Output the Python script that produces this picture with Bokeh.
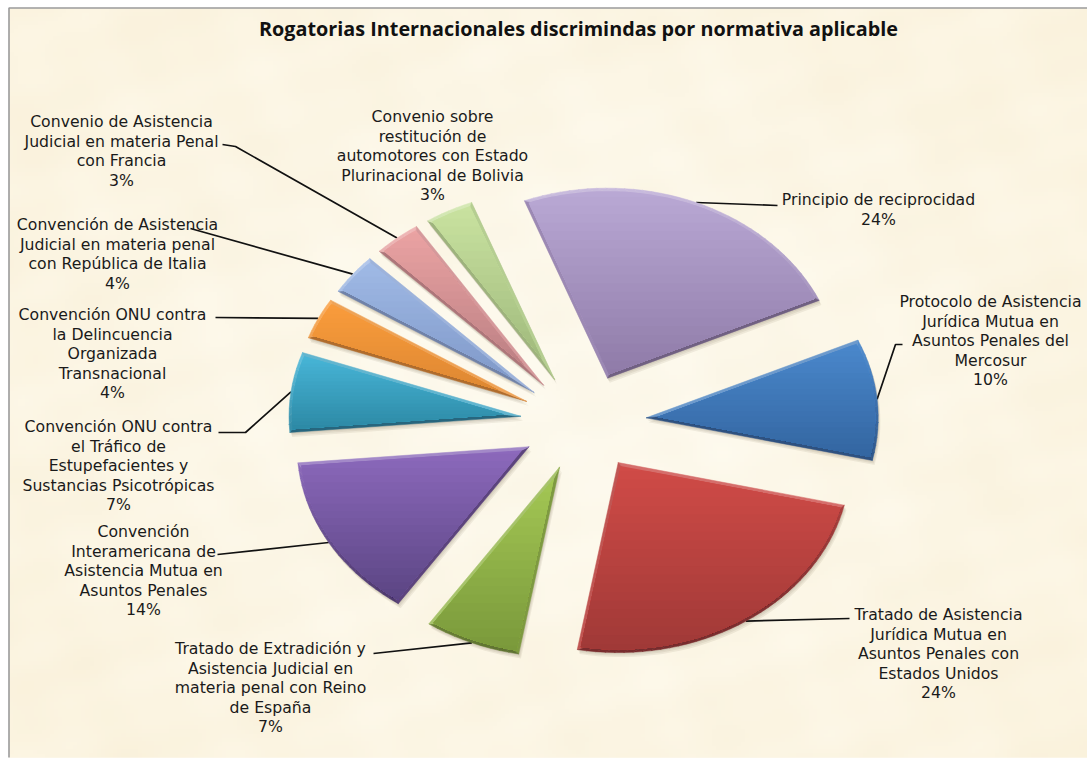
import math
import numpy as np
from bokeh.plotting import figure
from bokeh.core.properties import value
from bokeh.embed import file_html
from bokeh.resources import INLINE

# ---- data ----
title_text = "Rogatorias Internacionales discrimindas por normativa aplicable"
categories = [
    "Principio de reciprocidad",
    "Protocolo de Asistencia\nJurídica Mutua en\nAsuntos Penales del\nMercosur",
    "Tratado de Asistencia\nJurídica Mutua en\nAsuntos Penales con\nEstados Unidos",
    "Tratado de Extradición y\nAsistencia Judicial en\nmateria penal con Reino\nde España",
    "Convención\nInteramericana de\nAsistencia Mutua en\nAsuntos Penales",
    "Convención ONU contra\nel Tráfico de\nEstupefacientes y\nSustancias Psicotrópicas",
    "Convención ONU contra\nla Delincuencia\nOrganizada\nTransnacional",
    "Convención de Asistencia\nJudicial en materia penal\ncon República de Italia",
    "Convenio de Asistencia\nJudicial en materia Penal\ncon Francia",
    "Convenio sobre\nrestitución de\nautomotores con Estado\nPlurinacional de Bolivia",
]
shares = [24.1, 10.3, 24.2, 6.7, 14.1, 6.8, 3.5, 3.5, 3.3, 3.4]
percent_labels = ["24%", "10%", "24%", "7%", "14%", "7%", "4%", "4%", "3%", "3%"]

# ---- style / layout ----
top_colors = ["#B9A8D4", "#4A88CC", "#D04B47", "#A5C955", "#8C69BC", "#48B6D8", "#FA9C3C", "#A0BAE6", "#EBA3A3", "#C9E2A0"]
bot_colors = ["#8F7BA8", "#3365A0", "#A03937", "#7A993B", "#5B4583", "#2C88A4", "#DB8631", "#7D96C6", "#B67C80", "#9CB679"]
CX, CY, EX, EY, RX, RY = 583, 422, 63, 48, 232, 190
START_DEG = -21.0
BEVEL = 3.0
FONT = "DejaVu Sans"
label_cx = [878, 990, 938, 270, 143, 118, 112, 117, 121, 432]
label_y0 = [199, 301, 614, 648, 531, 426, 314, 224, 121, 116]
LINE_H = 19.5
leader_via = [[(777, 205)], [(895, 344), (902, 344)], [(849, 618)], [(373, 653)], [(217, 554)],
              [(245, 432), (218, 432)], [(215, 317)], [(190, 228)], [(235, 146), (222, 144)], None]


def hexrgb(c):
    return tuple(int(c[i:i + 2], 16) for i in (1, 3, 5))


def tohex(r):
    return "#%02X%02X%02X" % tuple(max(0, min(255, int(round(v)))) for v in r)


def mix(a, b, f):
    return tuple(x + (y - x) * f for x, y in zip(a, b))


def clip(poly, a, b, c):
    """keep points with a*x + b*y >= c"""
    out = []
    for i, p in enumerate(poly):
        q = poly[(i + 1) % len(poly)]
        dp, dq = a * p[0] + b * p[1] - c, a * q[0] + b * q[1] - c
        if dp >= 0:
            out.append(p)
        if dp * dq < 0:
            f = dp / (dp - dq)
            out.append((p[0] + (q[0] - p[0]) * f, p[1] + (q[1] - p[1]) * f))
    return out


W, H = 1087, 758
p = figure(width=W, height=H, x_range=(0, W), y_range=(H, 0), toolbar_location=None,
           output_backend="svg", min_border=0, outline_line_color=None,
           background_fill_color="#FFFFFF", border_fill_color="#FFFFFF")
p.axis.visible = False
p.grid.visible = False

# parchment background: soft, low-contrast mottling
BX0, BY0, BX1, BY1 = 9, 8, W, 757
cell = 4
ny_, nx_ = (BY1 - BY0) // cell + 1, (BX1 - BX0) // cell + 1
yy, xx = np.mgrid[0:ny_, 0:nx_]
xf, yf = xx * cell, yy * cell
mott = (np.sin(xf / 37.0 + 1.3 * np.sin(yf / 53.0)) * np.sin(yf / 29.0 + 1.1 * np.sin(xf / 71.0))
        + 0.6 * np.sin(xf / 17.0 + yf / 23.0) * np.sin(yf / 13.0 - xf / 41.0))
glow = np.exp(-(((xf - 540) / 480.0) ** 2 + ((yf - 380) / 380.0) ** 2))
img = np.zeros((ny_, nx_), dtype=np.uint32)
view = img.view(np.uint8).reshape((ny_, nx_, 4))
view[..., 0] = np.clip(251 + 2 * glow + 1.0 * mott, 0, 255)
view[..., 1] = np.clip(243 + 6 * glow + 1.6 * mott, 0, 255)
view[..., 2] = np.clip(222 + 14 * glow + 3.0 * mott, 0, 255)
view[..., 3] = 255
p.quad(left=[BX0], right=[BX1], top=[BY0], bottom=[BY1], fill_color="#FBF3E0", line_color=None)
p.image_rgba(image=[img], x=BX0, y=BY0, dw=BX1 - BX0, dh=BY1 - BY0)

# frame lines
p.line([8.5, 8.5, W], [BY1, 7.5, 7.5], line_color="#9A9A9A", line_width=1.6)

shadow_x, shadow_y, fan_x, fan_y, fan_c, band_x, band_y, band_c = [], [], [], [], [], [], [], []
lead_x, lead_y = [], []
cum = START_DEG
total = sum(shares)
for i, s in enumerate(shares):
    a0 = cum
    a1 = cum + 360.0 * s / total
    cum = a1
    mid = math.radians((a0 + a1) / 2)
    ax, ay = CX + EX * math.sin(mid), CY - EY * math.cos(mid)
    n = max(6, int(s * 1.6))
    ts = [math.radians(a0 + (a1 - a0) * k / n) for k in range(n + 1)]
    outer = [(ax, ay)] + [(ax + RX * math.sin(t), ay - RY * math.cos(t)) for t in ts]
    inner = [(ax, ay)] + [(ax + (RX - BEVEL) * math.sin(t), ay - (RY - BEVEL) * math.cos(t)) for t in ts]
    for j0, j1 in ((0, 1), (len(outer) - 1, 0)):
        x0, y0 = outer[j0]
        x1, y1 = outer[j1]
        L = math.hypot(x1 - x0, y1 - y0)
        nx, ny = -(y1 - y0) / L, (x1 - x0) / L
        inner = clip(inner, nx, ny, nx * x0 + ny * y0 + BEVEL)
    mx = sum(q[0] for q in inner) / len(inner)
    my = sum(q[1] for q in inner) / len(inner)

    for k in (1.5, 3, 4.5):
        shadow_x.append([q[0] + k * 0.5 for q in outer])
        shadow_y.append([q[1] + k for q in outer])

    top, bot = hexrgb(top_colors[i]), hexrgb(bot_colors[i])
    ymin = min(q[1] for q in outer)
    ymax = max(q[1] for q in outer)
    for j in range(len(outer)):
        a = outer[j]
        b = outer[(j + 1) % len(outer)]
        L = math.hypot(b[0] - a[0], b[1] - a[1])
        nx, ny = (b[1] - a[1]) / L, -(b[0] - a[0]) / L
        up = -ny * 0.9 - nx * 0.25
        base = mix(top, bot, ((a[1] + b[1]) / 2 - ymin) / (ymax - ymin))
        col = mix(base, (255, 255, 255), 0.24 * up) if up > 0 else mix(base, (20, 10, 20), 0.32 * -up)
        fan_x.append([a[0], b[0], mx])
        fan_y.append([a[1], b[1], my])
        fan_c.append(tohex(col))
    steps = 22
    for k in range(steps):
        yk = ymin + (ymax - ymin) * k / steps
        poly = clip(inner, 0, 1, yk)
        if len(poly) >= 3:
            band_x.append([q[0] for q in poly])
            band_y.append([q[1] for q in poly])
            band_c.append(tohex(mix(top, bot, k / (steps - 1))))
    if leader_via[i]:
        pts = [(ax + RX * math.sin(mid), ay - RY * math.cos(mid))] + leader_via[i]
        lead_x.append([q[0] for q in pts])
        lead_y.append([q[1] for q in pts])

p.patches(shadow_x, shadow_y, fill_color="#3A2A10", fill_alpha=0.07, line_color=None)
p.multi_line(lead_x, lead_y, line_color="#111111", line_width=1.7)
p.patches(fan_x, fan_y, fill_color=fan_c, line_color=fan_c, line_width=0.5)
p.patches(band_x, band_y, fill_color=band_c, line_color=None)

tx, ty, tt = [], [], []
for i, name in enumerate(categories):
    lines = name.split("\n") + [percent_labels[i]]
    for k, ln in enumerate(lines):
        tx.append(label_cx[i])
        ty.append(label_y0[i] + k * LINE_H)
        tt.append(ln)
p.text(tx, ty, text=tt, text_font=value(FONT), text_font_size="15.7px", text_color="#1A1A1A",
       text_align="center", text_baseline="middle")
p.text([578], [28], text=[title_text], text_font=value("Open Sans"), text_font_style="bold",
       text_font_size="19.8px", text_color="#111111", text_align="center", text_baseline="middle")

open("out.html", "w").write(file_html(p, INLINE))
